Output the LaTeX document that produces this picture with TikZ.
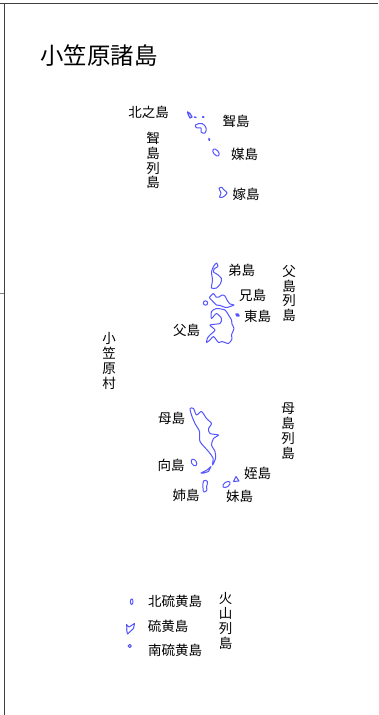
\documentclass[tikz,border=0pt]{standalone}
\usepackage{fontspec}
\setmainfont{Noto Sans CJK JP}
\definecolor{islandblue}{RGB}{85,85,255}
\tikzset{
	island/.style={draw=islandblue, line width=1pt, line join=round, line cap=round},
	place/.style={font=\fontsize{13.5}{14.9}\selectfont, inner sep=0pt, align=center, text=black},
	frameline/.style={draw=black!75, line width=1pt},
}
\begin{document}
\begin{tikzpicture}[x=1pt, y=-1pt]
	\useasboundingbox (0, 0) rectangle (378, 715);
	\fill[white] (0, 0) rectangle (378, 715);

	% frame
	\draw[frameline] (0, 3.5) -- (378, 3.5);
	\draw[frameline] (4, 3.5) -- (4, 715);
	\draw[frameline, draw=black!50] (0, 293) -- (4, 293);

	\node[place, font=\fontsize{23.4}{25}\selectfont] (title) at (99, 56) {小笠原諸島};
	\node[place] (kitanoshima) at (148.5, 112) {北之島};
	\node[place] (mukoretto) at (153, 160.5) {聟\\島\\列\\島};
	\node[place] (muko) at (236, 121) {聟島};
	\node[place] (nakodo) at (244.5, 154) {媒島};
	\node[place] (yome) at (246, 194) {嫁島};

	\node[place] (ototo) at (241.5, 270.5) {弟島};
	\node[place] (ani) at (252.5, 295.5) {兄島};
	\node[place] (higashi) at (257.5, 316) {東島};
	\node[place] (chichi) at (186.5, 330.5) {父島};
	\node[place] (chichiretto) at (289, 293.5) {父\\島\\列\\島};
	\node[place] (ogasawara) at (109, 361) {小\\笠\\原\\村};

	\node[place] (haha) at (171.5, 418.5) {母島};
	\node[place] (haharetto) at (288, 431.5) {母\\島\\列\\島};
	\node[place] (mukojima) at (171, 465.5) {向島};
	\node[place] (mei) at (257.5, 473) {姪島};
	\node[place] (ane) at (186, 495.5) {姉島};
	\node[place] (imoto) at (239.5, 496) {妹島};

	\node[place] (kitaio) at (175, 601) {北硫黄島};
	\node[place] (io) at (168, 626) {硫黄島};
	\node[place] (minamiio) at (175, 650.5) {南硫黄島};
	\node[place] (kazan) at (225.5, 621) {火\\山\\列\\島};

	% mukojima group
	\draw[island, line width=1.3pt] (187.5, 112) -- (190, 113.5) -- (192, 117) -- (190, 118) -- (188.5, 115) -- cycle;
	\draw[island, line width=1.5pt] (194.5, 117) -- (196, 117.5);
	\draw[island, line width=1.8pt] (202.7, 117) -- (203.7, 117);
	\draw[island] plot[smooth cycle, tension=0.7] coordinates {(195.5, 125) (202, 123.5) (206, 128) (205, 133) (201, 132) (201, 128) (197, 128)};
	\draw[island, line width=1.8pt] (209, 138.8) -- (209.4, 140.2);
	\draw[island, rotate around={-50:(216, 152.5)}] (216, 152.5) ellipse (4.2 and 2.4);
	\draw[island] plot[smooth cycle, tension=0.7] coordinates {(219, 188.5) (222, 187.5) (224, 190) (227, 193) (223, 197) (219.5, 197) (221, 193)};

	% chichijima group
	\draw[island] plot[smooth cycle, tension=0.4] coordinates {(216.5, 263) (218, 266.5) (214.5, 268.5) (213.5, 272) (217.5, 274.5) (221.5, 278.5) (220.5, 283.5) (216.5, 288) (211.5, 288) (212.5, 280) (211.5, 272) (213.5, 266.5)};
	\draw[island] plot[smooth cycle, tension=0.4] coordinates {(209.5, 297.5) (213.5, 293.5) (216, 297) (219, 297) (222, 295) (225, 296) (227, 300) (230, 304) (234, 305) (226.5, 307.5) (220, 305.5) (216.5, 305) (211.5, 300)};
	\draw[island] (205.5, 303) circle (2.2);
	\draw[island, line width=1.4pt, rotate around={-30:(237.5, 315)}] (237.5, 315) ellipse (1.8 and 1.1);
	\draw[island] plot[smooth cycle, tension=0.4] coordinates {(211.5, 311.5) (216.5, 308.5) (225, 310) (228.5, 315) (231.5, 320) (232, 324) (234, 328.5) (231.5, 335) (232, 339) (228.5, 343.5) (222, 341.5) (218.5, 342.5) (213.5, 336.5) (210, 340) (206.5, 342.5) (207.5, 338) (210, 335) (215, 330) (210, 325) (220, 323.5) (221.5, 318.5) (216.5, 313.5) (211.5, 318.5)};

	% hahajima group
	\draw[island] plot[smooth cycle, tension=0.45] coordinates {(190, 408.5) (193.5, 408.5) (196.5, 415) (201.5, 411.5) (206.5, 418.5) (211.5, 423.5) (208.5, 428.5) (210, 433.5) (218.5, 435) (213.5, 438.5) (211.5, 445) (215, 451.5) (215.5, 458.5) (212.5, 465) (213, 458) (208.5, 451.5) (200, 441.5) (199.5, 431.5) (195, 423.5) (191.5, 415)};
	\draw[island, rotate around={-60:(194, 462.5)}] (194, 462.5) ellipse (3.7 and 2.4);
	\draw[island] (201, 473) -- (207, 470) -- (211, 466.5) -- (208.5, 471.5) -- (204, 473) -- cycle;
	\draw[island] plot[smooth cycle, tension=0.7] coordinates {(203.5, 481) (207.5, 481.5) (206.5, 487) (207, 490) (204, 492) (203, 488)};
	\draw[island, rotate around={35:(226.5, 484.5)}] (226.5, 484.5) ellipse (4.2 and 2.4);
	\draw[island] (236, 476.5) -- (239, 481) -- (233.5, 481.5) -- cycle;

	% kazan group
	\draw[island] (131.7, 601.7) ellipse (1.3 and 2.8);
	\draw[island] (127, 629) -- (126.5, 624.5) -- (129, 627) -- (134.5, 623.5) -- (133.5, 628.5) -- (127.5, 634) -- (126.5, 629) -- cycle;
	\draw[island] (129.7, 646) circle (1.6);
\end{tikzpicture}
\end{document}
